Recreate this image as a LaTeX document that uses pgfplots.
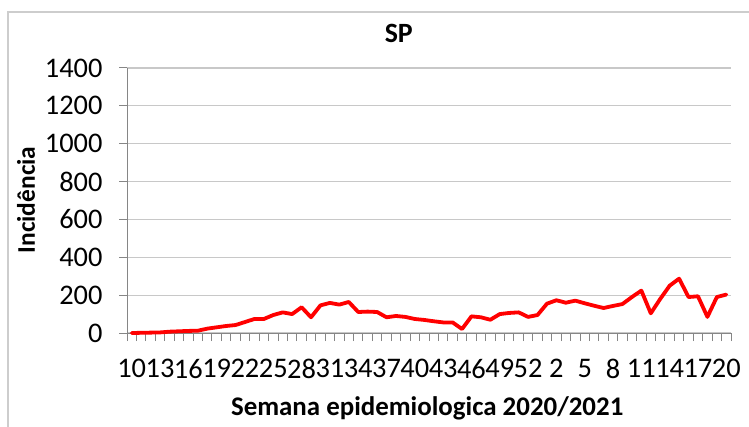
\documentclass[border=0pt]{standalone}
\usepackage{pgfplots}
\pgfplotsset{compat=1.18}
\usepackage{fontspec}
\setmainfont{Carlito}
\definecolor{axisgray}{RGB}{134,134,134}
\definecolor{gridgray}{RGB}{200,200,200}
\definecolor{framegray}{RGB}{205,205,205}
\definecolor{linered}{RGB}{255,0,0}
\begin{document}
\begin{tikzpicture}[x=1bp,y=1bp]
\path[use as bounding box] (0,0) rectangle (749,426);
\draw[framegray, line width=1.5bp] (8,-2) -- (8,414) -- (752,414);
\begin{axis}[
  at={(127bp,93bp)}, anchor=south west,
  scale only axis, width=604bp, height=265bp,
  xmin=-0.5, xmax=63.5, ymin=0, ymax=1400,
  ytick={0,200,...,1400},
  xtick={0,3,...,63},
  xticklabels={10,13,16,19,22,25,28,31,34,37,40,43,46,49,52,2,5,8,11,14,17,20},
  minor xtick={-0.5,0.5,...,63.5},
  axis x line*=bottom, axis y line*=left,
  axis line style={axisgray, line width=1bp, -},
  tick align=outside,
  major tick length=8bp, minor tick length=8bp,
  major x tick style={draw=none},
  minor x tick style={axisgray, line width=1bp},
  major y tick style={axisgray, line width=1bp},
  ymajorgrids, grid style={gridgray, line width=1.2bp},
  /pgf/number format/assume math mode=true,
  /pgf/number format/1000 sep={},
  tick label style={font=\fontsize{28.5}{32}\selectfont, text=black},
  yticklabel style={xshift=-13bp},
  xticklabel style={yshift=-15bp},
  title={\textbf{SP}},
  title style={at={(axis description cs:0.450,1.107)}, anchor=center, font=\fontsize{28}{32}\selectfont},
  xlabel={\textbf{Semana epidemiologica 2020/2021}},
  xlabel style={at={(axis description cs:0.497,-0.283)}, anchor=center, font=\fontsize{27}{31}\selectfont},
  ylabel={\textbf{Incidência}},
  ylabel style={at={(axis description cs:-0.167,0.502)}, anchor=center, rotate=0, font=\fontsize{25.5}{30}\selectfont},
  clip=false,
]
\addplot[linered, line width=3.8bp, line join=round, line cap=round] coordinates {
(0,0) (1,1) (2,2) (3,3) (4,7) (5,9) (6,11) (7,12) (8,23) (9,30)
(10,37) (11,42) (12,58) (13,74) (14,74) (15,95) (16,109) (17,100) (18,136) (19,83)
(20,146) (21,159) (22,150) (23,164) (24,111) (25,113) (26,111) (27,83) (28,90) (29,85)
(30,74) (31,69) (32,62) (33,56) (34,56) (35,21) (36,88) (37,83) (38,70) (39,100)
(40,106) (41,109) (42,85) (43,95)
(44,155) (45,173) (46,160) (47,171) (48,157) (49,144) (50,132) (51,143) (52,153) (53,190)
(54,224) (55,104) (56,180) (57,250) (58,287) (59,190) (60,194) (61,85) (62,190) (63,203)
};
\end{axis}
\end{tikzpicture}
\end{document}
